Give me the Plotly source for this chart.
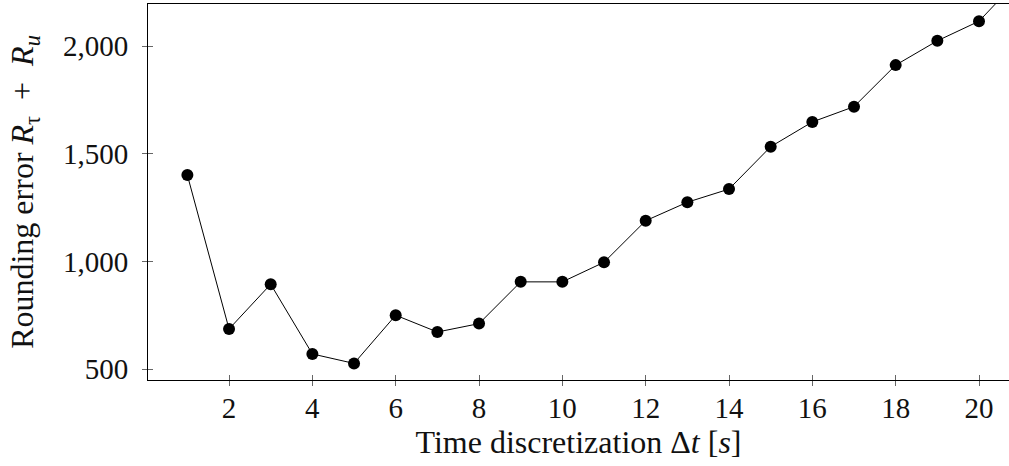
import plotly.graph_objects as go

dt = [1, 2, 3, 4, 5, 6, 7, 8, 9, 10, 11, 12, 13, 14, 15, 16, 17, 18, 19, 20, 21]
rounding_error = [1401, 686, 894, 570, 526, 750, 672, 711, 905, 905, 996, 1189,
                  1275, 1336, 1533, 1648, 1719, 1912, 2025, 2116, 2320]
x_ticks = [2, 4, 6, 8, 10, 12, 14, 16, 18, 20]
y_ticks = [500, 1000, 1500, 2000]

FONT = "Liberation Serif"

fig = go.Figure()
fig.add_trace(go.Scatter(
    x=dt, y=rounding_error, mode="lines+markers",
    line=dict(color="black", width=1),
    marker=dict(color="black", size=12),
    showlegend=False, cliponaxis=True,
))

axis_common = dict(showgrid=False, zeroline=False, linecolor="black", linewidth=1,
                   tickcolor="#666", ticklen=5, tickwidth=1, automargin=False,
                   tickfont=dict(family=FONT, size=29, color="#111"))

fig.update_layout(
    width=1009, height=466,
    margin=dict(l=148, r=0, t=4, b=86),
    plot_bgcolor="white", paper_bgcolor="white",
    font=dict(family=FONT, color="#111"),
    xaxis=dict(range=[0.055, 20.72], tickvals=x_ticks, ticks="outside",
               showline=True, mirror=True, ticklabelstandoff=-3,
               title=dict(text="Time discretization Δ<i>t</i> [<i>s</i>]",
                          font=dict(family=FONT, size=32), standoff=2),
               **axis_common),
    yaxis=dict(range=[449, 2196], tickvals=y_ticks, tickformat=",d", ticks="outside",
               showline=True, mirror=False, ticklabelstandoff=8,
               title=dict(text="Rounding error <i>R</i><sub>τ</sub>&nbsp;&nbsp;+&nbsp;&nbsp;<i>R</i><sub><i>u</i></sub>",
                          font=dict(family=FONT, size=32), standoff=19),
               **axis_common),
    xaxis2=dict(overlaying="x", matches="x", tickvals=x_ticks, ticks="inside",
                showticklabels=False, showline=False, showgrid=False, zeroline=False,
                ticklen=5, tickcolor="#666", side="bottom", automargin=False),
    yaxis2=dict(overlaying="y", matches="y", tickvals=y_ticks, ticks="inside",
                showticklabels=False, showline=False, showgrid=False, zeroline=False,
                ticklen=5, tickcolor="#666", side="left", automargin=False),
)
fig.add_trace(go.Scatter(x=[dt[0]], y=[rounding_error[0]], xaxis="x2", yaxis="y2",
                         mode="markers", marker=dict(opacity=0), showlegend=False,
                         hoverinfo="skip"))

fig.write_html("out.html", config={"displayModeBar": False},
               post_script="document.body.style.margin='0px';")
